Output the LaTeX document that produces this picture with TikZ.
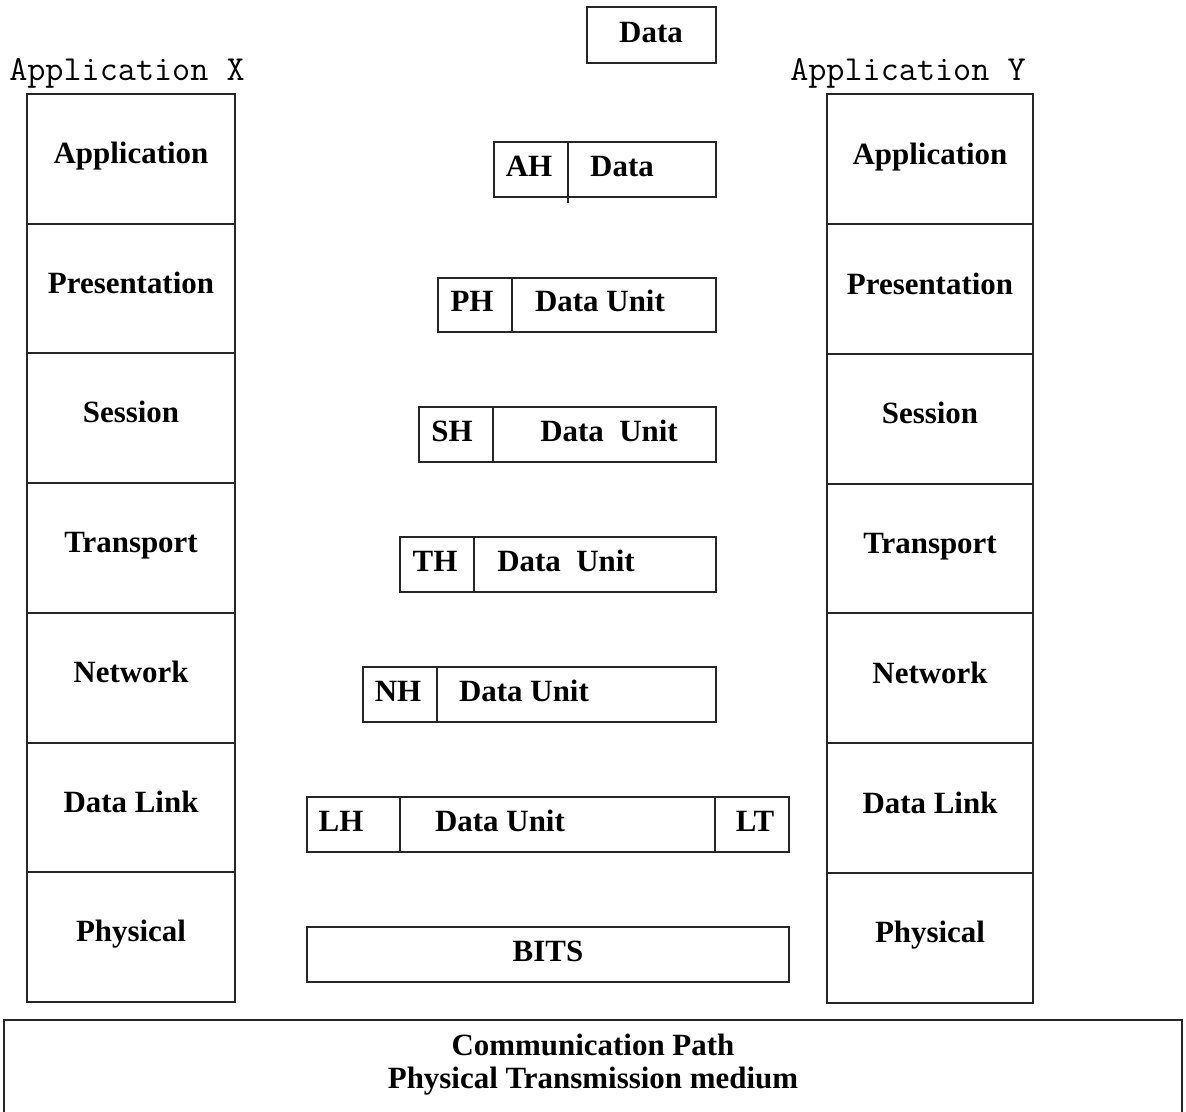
\documentclass[tikz,border=0pt]{standalone}
\usepackage{fontspec}
\setmainfont{Liberation Serif}

\begin{document}
\begin{tikzpicture}[x=0.025cm,y=0.025cm]
\tikzstyle{every node}+=[inner sep=0pt, font=\bfseries\fontsize{22}{23.5}\selectfont]
\tikzstyle{box}=[black!85, line width=0.9pt]
\tikzstyle{lbl}=[anchor=base]
\tikzstyle{app}=[anchor=base west, font=\ttfamily\fontsize{25}{27}\selectfont]
\useasboundingbox (0,0) rectangle (1186,-1112);
% data handed down from the application
\draw [box] (587,-7) rectangle (716,-63);
\node (dataTop) [lbl] at (651,-42) {Data};
% host X
\node (appX) [app] at (9,-80) {Application X};
\draw [box] (27,-94) rectangle (235,-1002);
\draw [box] (27,-224) -- (235,-224);
\draw [box] (27,-353) -- (235,-353);
\draw [box] (27,-483) -- (235,-483);
\draw [box] (27,-613) -- (235,-613);
\draw [box] (27,-743) -- (235,-743);
\draw [box] (27,-872) -- (235,-872);
\node (xApp) [lbl] at (131,-163) {Application};
\node (xPres) [lbl] at (131,-293) {Presentation};
\node (xSess) [lbl] at (131,-422) {Session};
\node (xTrans) [lbl] at (131,-552) {Transport};
\node (xNet) [lbl] at (131,-682) {Network};
\node (xLink) [lbl] at (131,-812) {Data Link};
\node (xPhys) [lbl] at (131,-941) {Physical};
% host Y
\node (appY) [app] at (790,-80) {Application Y};
\draw [box] (827,-94) rectangle (1033,-1003);
\draw [box] (827,-224) -- (1033,-224);
\draw [box] (827,-354) -- (1033,-354);
\draw [box] (827,-484) -- (1033,-484);
\draw [box] (827,-613) -- (1033,-613);
\draw [box] (827,-743) -- (1033,-743);
\draw [box] (827,-873) -- (1033,-873);
\node (yApp) [lbl] at (930,-164) {Application};
\node (yPres) [lbl] at (930,-294) {Presentation};
\node (ySess) [lbl] at (930,-423) {Session};
\node (yTrans) [lbl] at (930,-553) {Transport};
\node (yNet) [lbl] at (930,-683) {Network};
\node (yLink) [lbl] at (930,-813) {Data Link};
\node (yPhys) [lbl] at (930,-942) {Physical};
% encapsulated units
\draw [box] (494,-142) rectangle (716,-197);
\draw [box] (568,-142) -- (568,-203);
\node (ah) [lbl] at (529,-176) {AH};
\node (ahData) [lbl] at (622,-176) {Data};
\draw [box] (438,-278) rectangle (716,-332);
\draw [box] (512,-278) -- (512,-332);
\node (ph) [lbl] at (472,-311) {PH};
\node (phData) [lbl] at (600,-311) {Data Unit};
\draw [box] (419,-407) rectangle (716,-462);
\draw [box] (493,-407) -- (493,-462);
\node (sh) [lbl] at (452,-441) {SH};
\node (shData) [lbl] at (609,-441) {Data~~Unit};
\draw [box] (400,-537) rectangle (716,-592);
\draw [box] (474,-537) -- (474,-592);
\node (th) [lbl] at (435,-571) {TH};
\node (thData) [lbl] at (566,-571) {Data~~Unit};
\draw [box] (363,-667) rectangle (716,-722);
\draw [box] (437,-667) -- (437,-722);
\node (nh) [lbl] at (398,-701) {NH};
\node (nhData) [lbl] at (524,-701) {Data Unit};
\draw [box] (307,-797) rectangle (789,-852);
\draw [box] (400,-797) -- (400,-852);
\draw [box] (715,-797) -- (715,-852);
\node (lh) [lbl] at (341,-831) {LH};
\node (lhData) [lbl] at (500,-831) {Data Unit};
\node (lt) [lbl] at (755,-831) {LT};
\draw [box] (307,-927) rectangle (789,-982);
\node (bits) [lbl] at (548,-961) {BITS};
% medium
\draw [box] (4,-1130) -- (4,-1020) -- (1182,-1020) -- (1182,-1130);
\node (path) [lbl] at (593,-1055) {Communication Path};
\node (medium) [lbl] at (593,-1088) {Physical Transmission medium};
\end{tikzpicture}
\end{document}
